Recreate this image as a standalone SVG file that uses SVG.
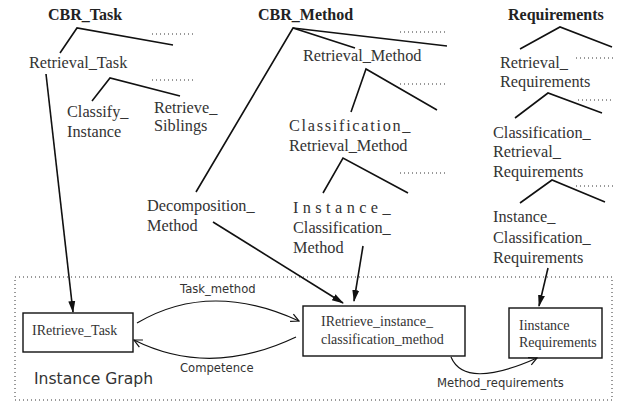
<svg xmlns="http://www.w3.org/2000/svg" width="619" height="405" viewBox="0 0 619 405">
<defs>
<style>
.t{font-family:"Liberation Serif",serif;font-size:16.3px;fill:#333}
.b{font-family:"Liberation Serif",serif;font-size:16px;font-weight:bold;fill:#222}
.n{font-family:"Liberation Serif",serif;font-size:14px;fill:#333}
.s{font-family:"DejaVu Sans","Liberation Sans",sans-serif;font-size:11.6px;fill:#333}
.ig{font-family:"DejaVu Sans","Liberation Sans",sans-serif;font-size:15.6px;fill:#333}
.l{stroke:#111;stroke-width:1.6;fill:none}
.d{stroke:#333;stroke-width:1;stroke-dasharray:1 3;fill:none}
.box{stroke:#111;stroke-width:1.4;fill:#fff}
.c{stroke:#111;stroke-width:1.2;fill:none}
</style>
<marker id="af" markerWidth="12" markerHeight="10" refX="11" refY="5" orient="auto" markerUnits="userSpaceOnUse">
<path d="M0,1.5 L12,5 L0,8.5 Z" fill="#111"/>
</marker>
<marker id="ao" markerWidth="10" markerHeight="10" refX="9" refY="5" orient="auto" markerUnits="userSpaceOnUse">
<path d="M1,1 L9,5 L1,9" fill="none" stroke="#111" stroke-width="1.2"/>
</marker>
</defs>
<rect width="619" height="405" fill="#fff"/>

<g id="cbr_task">
<text class="b" x="48" y="20">CBR_Task</text>
<path class="l" d="M60,53 L77,28 L173,45"/>
<line class="d" x1="152" y1="34" x2="196" y2="34"/>
</g>
<g id="retrieval_task">
<text class="t" x="29" y="68">Retrieval_Task</text>
<path class="l" d="M92,101 L110,78 L180,96"/>
<line class="d" x1="152" y1="80" x2="196" y2="80"/>
</g>
<g id="classify_instance">
<text class="t" x="67" y="117">Classify_</text>
<text class="t" x="67" y="137">Instance</text>
</g>
<g id="retrieve_siblings">
<text class="t" x="154" y="113">Retrieve_</text>
<text class="t" x="154" y="131">Siblings</text>
</g>

<g id="cbr_method">
<text class="b" x="258" y="20">CBR_Method</text>
<path class="l" d="M196,192 L293,28 L355,48"/>
<path class="l" d="M293,28 L447,46"/>
<line class="d" x1="400" y1="32" x2="446" y2="32"/>
</g>
<g id="retrieval_method">
<text class="t" x="303" y="61">Retrieval_Method</text>
<path class="l" d="M351,112 L366,69 L437,110"/>
<line class="d" x1="400" y1="84" x2="446" y2="84"/>
</g>
<g id="classification_retrieval_method">
<text class="t" x="289" y="131" letter-spacing="1.7">Classification_</text>
<text class="t" x="289" y="151">Retrieval_Method</text>
<path class="l" d="M323,193 L343,158 L408,193"/>
<line class="d" x1="400" y1="173" x2="446" y2="173"/>
</g>
<g id="instance_classification_method">
<text class="t" x="293" y="213" letter-spacing="4.4">Instance_</text>
<text class="t" x="293" y="233">Classification_</text>
<text class="t" x="293" y="253">Method</text>
</g>
<g id="decomposition_method">
<text class="t" x="147" y="211">Decomposition_</text>
<text class="t" x="147" y="231">Method</text>
</g>

<g id="requirements">
<text class="b" x="508" y="20">Requirements</text>
<path class="l" d="M520,49 L560,27 L612,47"/>
<line class="d" x1="576" y1="58" x2="614" y2="58"/>
</g>
<g id="retrieval_requirements">
<text class="t" x="500" y="68">Retrieval_</text>
<text class="t" x="500" y="87">Requirements</text>
<path class="l" d="M515,118 L548,93 L602,113"/>
<line class="d" x1="578" y1="100" x2="614" y2="100"/>
</g>
<g id="classification_retrieval_requirements">
<text class="t" x="493" y="138">Classification_</text>
<text class="t" x="493" y="157">Retrieval_</text>
<text class="t" x="493" y="177">Requirements</text>
<path class="l" d="M520,203 L552,180 L605,202"/>
<line class="d" x1="576" y1="186" x2="614" y2="186"/>
</g>
<g id="instance_classification_requirements">
<text class="t" x="493" y="222">Instance_</text>
<text class="t" x="493" y="243">Classification_</text>
<text class="t" x="493" y="263">Requirements</text>
</g>

<g id="instance_graph">
<rect class="d" x="15" y="277" width="597" height="123"/>
<text class="ig" x="34" y="384">Instance Graph</text>
</g>
<g id="iretrieve_task">
<rect class="box" x="23" y="313" width="110" height="39"/>
<text class="n" x="32" y="335" font-size="13.6">IRetrieve_Task</text>
</g>
<g id="iretrieve_instance_classification_method">
<rect class="box" x="303" y="306" width="162" height="50"/>
<text class="n" x="321" y="326">IRetrieve_instance_</text>
<text class="n" x="321" y="344">classification_method</text>
</g>
<g id="iinstance_requirements">
<rect class="box" x="509" y="308" width="93" height="50"/>
<text class="n" x="519" y="330">Iinstance</text>
<text class="n" x="519" y="347">Requirements</text>
</g>

<g id="connectors">
<line class="l" x1="46" y1="74" x2="73" y2="312" marker-end="url(#af)"/>
<line class="l" x1="213" y1="222" x2="343" y2="303" marker-end="url(#af)"/>
<line class="l" x1="363" y1="246" x2="354" y2="301" marker-end="url(#af)"/>
<line class="l" x1="548" y1="268" x2="539" y2="306" marker-end="url(#af)"/>
<path class="c" d="M137,323 Q210,280 299,321" marker-end="url(#ao)"/>
<path class="c" d="M296,337 Q210,378 134,340" marker-end="url(#ao)"/>
<path class="c" d="M451,357 Q465,390 537,358" marker-end="url(#ao)"/>
<text class="s" x="180" y="293">Task_method</text>
<text class="s" x="180" y="372">Competence</text>
<text class="s" x="437" y="387">Method_requirements</text>
</g>
</svg>
